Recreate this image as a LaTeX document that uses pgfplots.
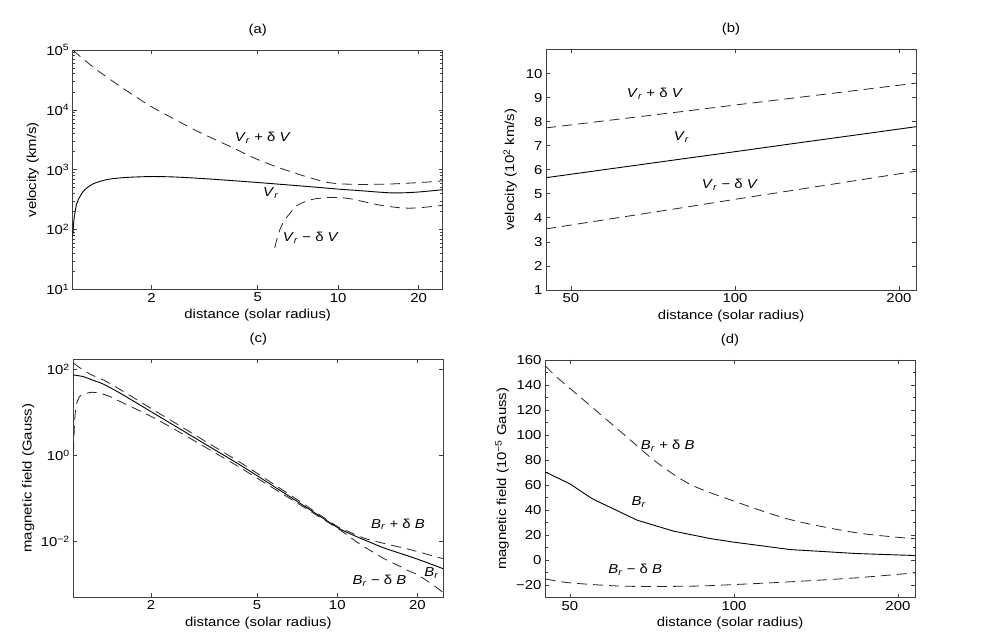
\documentclass[border=0pt]{standalone}
\usepackage{fontspec}
\setmainfont{Liberation Sans}[FakeStretch=1.15]
\usepackage{pgfplots}
\pgfplotsset{compat=1.18}
\newcommand{\fs}{\fontsize{13}{15}\selectfont}
\pgfplotsset{
  panel/.style={
    scale only axis, width=370bp,
    axis line style={black!75, line width=0.9bp},
    every tick/.style={black!75, line width=0.7bp},
    tick align=inside,
    major tick length=4bp, minor tick length=2.5bp,
    tick label style={font=\fs},
    label style={font=\fs},
    title style={font=\fs, at={(0.5,1)}, anchor=center, yshift=14bp},
    xlabel style={at={(axis description cs:0.5,-0.109)}, anchor=center},
    xlabel={distance (solar radius)},
  },
  solidline/.style={black, line width=0.9bp, no marks},
  dashline/.style={black!85, line width=0.8bp, no marks, dash pattern=on 10bp off 6bp},
}
\tikzset{lab/.style={font=\fs}}
\newcommand{\Vr}{\textit{V}\textsubscript{\textit{r}}}
\newcommand{\Br}{\textit{B}\textsubscript{\textit{r}}}
\begin{document}
\begin{tikzpicture}
\path[use as bounding box] (0,0) rectangle (996bp,640bp);

% (a)
\begin{axis}[panel, at={(72.7bp,350.5bp)}, anchor=south west, height=239.5bp,
  xmode=log, ymode=log, xmin=1.015, xmax=24.6, ymin=10, ymax=100000,
  xtick={2,5,10,20}, xticklabels={2,5,10,20},
  ytick={10,100,1000,10000,100000},
  yticklabels={10\textsuperscript{1},10\textsuperscript{2},10\textsuperscript{3},10\textsuperscript{4},10\textsuperscript{5}},
  minor xtick={}, 
  minor ytick={20,30,40,50,60,70,80,90,200,300,400,500,600,700,800,900,2000,3000,4000,5000,6000,7000,8000,9000,20000,30000,40000,50000,60000,70000,80000,90000},
  title={(a)}, ylabel={velocity (km/s)},
  ylabel style={at={(axis description cs:-0.108,0.5)}, anchor=center},
]
\addplot[solidline, smooth] coordinates {(1.015,75) (1.025,140) (1.035,190) (1.05,270) (1.081,359) (1.11,430) (1.145,495) (1.212,584) (1.30,650) (1.40,700) (1.62,745) (2.0,770) (2.48,755) (3.31,700) (4.95,614) (7.61,527) (10,475) (12,448) (14,425) (16,410) (18,414) (20,425) (22,442) (24.6,464)};
\addplot[dashline, smooth] coordinates {(1.015,100000) (1.1,73600) (1.25,46400) (1.5,26100) (1.75,16500) (2,11300) (2.5,6600) (3,4300) (4,2370) (5,1480) (6.59,937) (8.77,638) (10.1,584) (12,568) (13.5,570) (16,580) (18,595) (20,610) (23.3,638) (24.6,655)};
\addplot[dashline, smooth] coordinates {(5.79,49.6) (5.9,70) (6.05,100) (6.3,145) (6.59,185) (6.96,247) (7.61,300) (8.3,330) (9.5,345) (11,330) (13.5,270) (15,248) (17,232) (18.5,228) (20.8,235) (24.6,254)};
\node[lab] at (axis cs:5.22,3400) {\Vr\ + δ \textit{V}};
\node[lab] at (axis cs:5.6,414) {\Vr};
\node[lab] at (axis cs:7.9,73.6) {\Vr\ − δ \textit{V}};
\end{axis}

% (b)
\begin{axis}[panel, at={(546bp,350bp)}, anchor=south west, height=240.5bp,
  xmode=log, xmin=45, xmax=215, ymin=1, ymax=11,
  xtick={50,100,200}, xticklabels={50,100,200}, minor xtick={},
  ytick={1,2,3,4,5,6,7,8,9,10}, yticklabels={1,2,3,4,5,6,7,8,9,10},
  title={(b)}, ylabel={velocity (10\textsuperscript{2} km/s)},
  ylabel style={at={(axis description cs:-0.097,0.5)}, anchor=center},
]
\addplot[solidline] coordinates {(45,5.67) (60,6.06) (80,6.45) (100,6.75) (130,7.11) (170,7.47) (215,7.79)};
\addplot[dashline] coordinates {(45,7.74) (60,8.08) (80,8.42) (100,8.69) (130,9.00) (170,9.32) (215,9.60)};
\addplot[dashline] coordinates {(45,3.54) (60,3.98) (80,4.42) (100,4.77) (130,5.17) (170,5.58) (215,5.94)};
\node[lab] at (axis cs:71.3,9.15) {\Vr\ + δ \textit{V}};
\node[lab] at (axis cs:79.8,7.35) {\Vr};
\node[lab] at (axis cs:97.9,5.39) {\Vr\ − δ \textit{V}};
\end{axis}

% (c)
\begin{axis}[panel, at={(73.3bp,43bp)}, anchor=south west, height=237.7bp,
  xmode=log, ymode=log, xmin=1.022, xmax=25, ymin=0.0005, ymax=170,
  xtick={2,5,10,20}, xticklabels={2,5,10,20}, minor xtick={},
  ytick={0.01,1,100}, yticklabels={10\textsuperscript{−2},10\textsuperscript{0},10\textsuperscript{2}},
  minor ytick={},
  title={(c)}, ylabel={magnetic field (Gauss)},
  ylabel style={at={(axis description cs:-0.122,0.5)}, anchor=center},
]
\addplot[solidline, smooth] coordinates {(1.022,73.6) (1.116,67) (1.2,56.5) (1.327,44.7) (1.535,27.5) (1.774,16.1) (2,10.3) (2.37,5.5) (3.16,1.88) (4.23,0.64) (5.32,0.261) (7,0.0873) (10,0.0209) (11,0.0155) (12,0.0122) (13.5,0.0090) (15.1,0.0068) (20,0.0038) (25,0.00227)};
\addplot[dashline, smooth] coordinates {(1.022,140) (1.06,118) (1.116,95) (1.2,73) (1.327,56) (1.535,33.5) (1.774,19.3) (2,12.2) (2.37,6.5) (3.16,2.2) (4.23,0.736) (5.32,0.295) (7,0.096) (10,0.022) (11,0.0168) (12.7,0.0115) (15,0.0088) (17.9,0.0068) (20,0.0057) (22.6,0.0046) (25,0.0039)};
\addplot[dashline, smooth] coordinates {(1.024,1.2) (1.032,5) (1.04,10) (1.05,15) (1.07,21) (1.1,25.5) (1.2,29) (1.29,27.5) (1.405,23) (1.49,19.2) (1.774,11.5) (2,8.0) (2.37,4.5) (3.16,1.6) (4.23,0.555) (5.32,0.23) (7,0.08) (10,0.0200) (11,0.0132) (12,0.0090) (13,0.0066) (14.1,0.0049) (15.1,0.0038) (17.4,0.0025) (18.4,0.00207) (20,0.00165) (22.6,0.00101) (25,0.00063)};
\node[lab] at (axis cs:16.9,0.0245) {\Br\ + δ \textit{B}};
\node[lab] at (axis cs:14.4,0.00121) {\Br\ − δ \textit{B}};
\node[lab] at (axis cs:22.6,0.00183) {\Br};
\end{axis}

% (d)
\begin{axis}[panel, at={(545bp,42.3bp)}, anchor=south west, height=237.7bp,
  xmode=log, xmin=45, xmax=215, ymin=-30, ymax=160,
  xtick={50,100,200}, xticklabels={50,100,200}, minor xtick={},
  ytick={-20,0,20,40,60,80,100,120,140,160},
  yticklabels={−20,0,20,40,60,80,100,120,140,160},
  minor ytick={-10,10,30,50,70,90,110,130,150},
  title={(d)}, ylabel={magnetic field (10\textsuperscript{−5} Gauss)},
  ylabel style={at={(axis description cs:-0.116,0.5)}, anchor=center},
]
\addplot[solidline] coordinates {(45.1,70.4) (50,61) (55,49) (66.4,32) (77.5,23.2) (90.4,17.3) (100,14.4) (126.7,8.5) (167.8,5.3) (215,3.7)};
\addplot[dashline, smooth] coordinates {(45.1,155.2) (47.4,145.9) (54.6,123.2) (62.8,100.5) (72.3,77.9) (83.2,60.5) (100,47.2) (126.7,32.5) (167.8,21.9) (215,17.1)};
\addplot[dashline, smooth] coordinates {(45.1,-15) (50,-18.1) (62.8,-20.8) (83.2,-20.8) (100,-19.5) (126.7,-17.3) (167.8,-14.1) (215,-10.1)};
\node[lab] at (axis cs:75.6,91.7) {\Br\ + δ \textit{B}};
\node[lab] at (axis cs:66.9,46.4) {\Br};
\node[lab] at (axis cs:65.9,-7.5) {\Br\ − δ \textit{B}};
\end{axis}
\end{tikzpicture}
\end{document}
